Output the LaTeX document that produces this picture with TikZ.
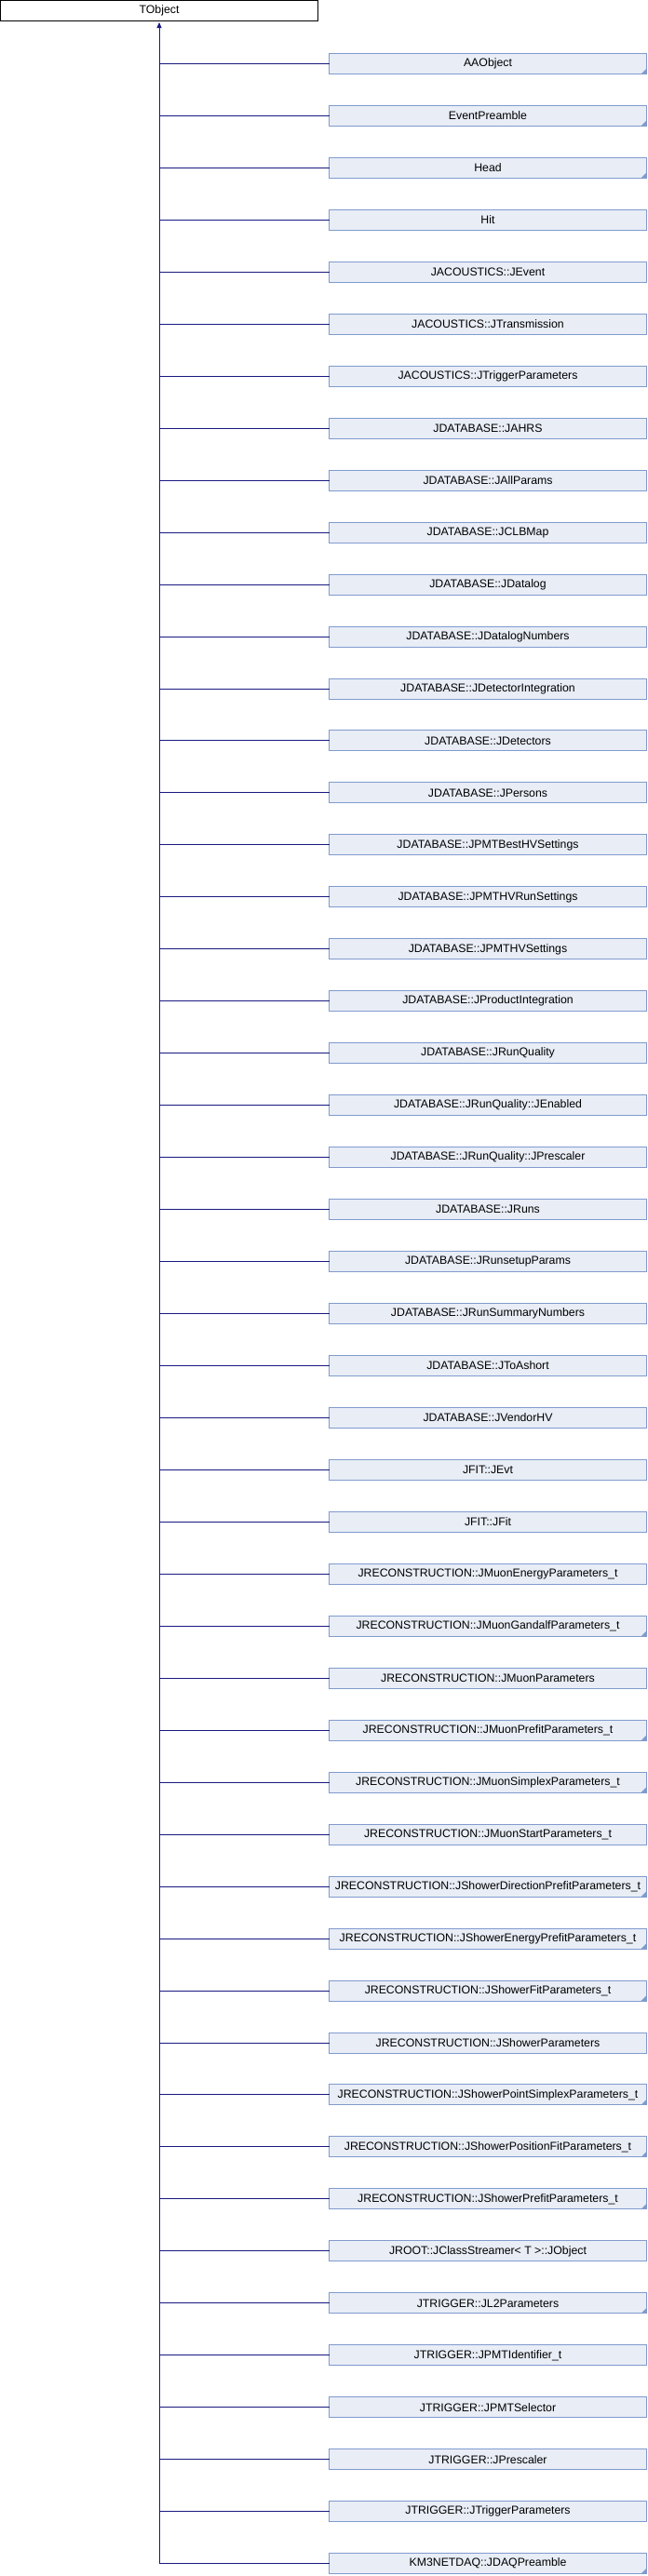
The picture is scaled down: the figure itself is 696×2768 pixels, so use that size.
\documentclass[tikz,border=0pt]{standalone}
\usepackage{fontspec}
\setmainfont{Liberation Sans}
\usetikzlibrary{arrows.meta}
\definecolor{boxfill}{RGB}{232,237,246}
\definecolor{boxline}{RGB}{128,155,206}
\definecolor{edgecol}{RGB}{25,25,128}
\tikzset{
  basebox/.style={rectangle, minimum width=341pt, minimum height=22pt, inner sep=0pt, outer sep=0pt,
    anchor=north west, font=\fontsize{12.3}{14}\selectfont, line width=1pt},
  rootbox/.style={basebox, draw=black, fill=white},
  childbox/.style={basebox, draw=boxline, fill=boxfill},
  hasmore/.style={path picture={\fill[boxline] (path picture bounding box.south east) -- ++(-6pt,0pt) -- ++(6pt,6pt) -- cycle;}},
  mk1/.style={hasmore},
  mk0/.style={},
  edge/.style={draw=edgecol, line width=1pt},
}
\begin{document}
\begin{tikzpicture}[x=1pt,y=1pt]
\useasboundingbox (0,0) rectangle (696,-2768);
\node[rootbox] (root) at (0.5,-0.5) {TObject};
\foreach \nm/\mk [count=\i from 1] in {
  AAObject/1,
  EventPreamble/1,
  Head/1,
  Hit/0,
  JACOUSTICS::JEvent/0,
  JACOUSTICS::JTransmission/0,
  JACOUSTICS::JTriggerParameters/0,
  JDATABASE::JAHRS/0,
  JDATABASE::JAllParams/0,
  JDATABASE::JCLBMap/0,
  JDATABASE::JDatalog/0,
  JDATABASE::JDatalogNumbers/0,
  JDATABASE::JDetectorIntegration/0,
  JDATABASE::JDetectors/0,
  JDATABASE::JPersons/0,
  JDATABASE::JPMTBestHVSettings/0,
  JDATABASE::JPMTHVRunSettings/0,
  JDATABASE::JPMTHVSettings/0,
  JDATABASE::JProductIntegration/0,
  JDATABASE::JRunQuality/0,
  JDATABASE::JRunQuality::JEnabled/0,
  JDATABASE::JRunQuality::JPrescaler/0,
  JDATABASE::JRuns/0,
  JDATABASE::JRunsetupParams/0,
  JDATABASE::JRunSummaryNumbers/0,
  JDATABASE::JToAshort/0,
  JDATABASE::JVendorHV/0,
  JFIT::JEvt/0,
  JFIT::JFit/0,
  JRECONSTRUCTION::JMuonEnergyParameters\_t/0,
  JRECONSTRUCTION::JMuonGandalfParameters\_t/1,
  JRECONSTRUCTION::JMuonParameters/0,
  JRECONSTRUCTION::JMuonPrefitParameters\_t/1,
  JRECONSTRUCTION::JMuonSimplexParameters\_t/1,
  JRECONSTRUCTION::JMuonStartParameters\_t/0,
  JRECONSTRUCTION::JShowerDirectionPrefitParameters\_t/1,
  JRECONSTRUCTION::JShowerEnergyPrefitParameters\_t/1,
  JRECONSTRUCTION::JShowerFitParameters\_t/1,
  JRECONSTRUCTION::JShowerParameters/0,
  JRECONSTRUCTION::JShowerPointSimplexParameters\_t/1,
  JRECONSTRUCTION::JShowerPositionFitParameters\_t/1,
  JRECONSTRUCTION::JShowerPrefitParameters\_t/1,
  JROOT::JClassStreamer< T >::JObject/0,
  JTRIGGER::JL2Parameters/1,
  JTRIGGER::JPMTIdentifier\_t/0,
  JTRIGGER::JPMTSelector/0,
  JTRIGGER::JPrescaler/0,
  JTRIGGER::JTriggerParameters/0,
  KM3NETDAQ::JDAQPreamble/1}
{
  \node[childbox, mk\mk] (c\i) at (353.5,{-57.5-55.96*(\i-1)}) {\nm};
  \draw[edge] (c\i.west) -- (c\i.west -| root.south);
}
\draw[edge, -{Triangle[width=5pt,length=6pt]}, shorten >=1.5pt] (c49.west -| root.south) -- (root.south);
\end{tikzpicture}
\end{document}
